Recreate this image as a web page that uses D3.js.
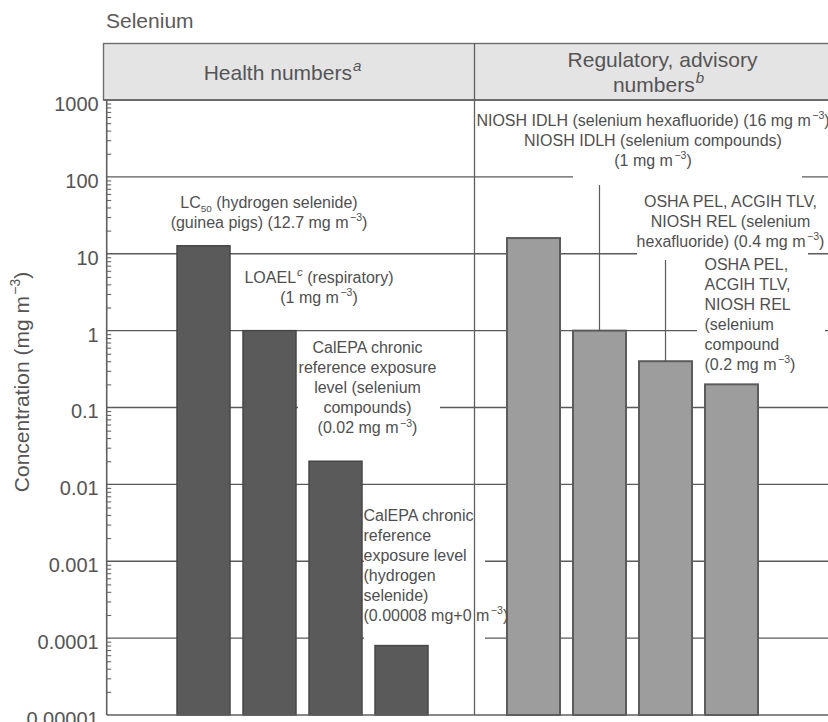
<!DOCTYPE html>
<html>
<head>
<meta charset="utf-8">
<script src="https://cdn.jsdelivr.net/npm/d3@7"></script>
<style>
  html, body { margin: 0; padding: 0; background: #fff; }
  svg { display: block; font-family: "Liberation Sans", Arial, Helvetica, sans-serif; }
</style>
</head>
<body>
<svg id="chart" width="828" height="722"></svg>
<script>
// Selenium: health-based numbers vs regulatory / advisory numbers (mg m-3), log scale

const healthCategories = [
  "LC50 hydrogen selenide (guinea pigs)",
  "LOAEL (respiratory)",
  "CalEPA chronic REL (selenium compounds)",
  "CalEPA chronic REL (hydrogen selenide)"
];
const healthValues = [12.7, 1, 0.02, 0.00008];

const regulatoryCategories = [
  "NIOSH IDLH (selenium hexafluoride)",
  "NIOSH IDLH (selenium compounds)",
  "OSHA PEL, ACGIH TLV, NIOSH REL (selenium hexafluoride)",
  "OSHA PEL, ACGIH TLV, NIOSH REL (selenium compound)"
];
const regulatoryValues = [16, 1, 0.4, 0.2];

const yTickValues = [1e-5, 1e-4, 1e-3, 1e-2, 1e-1, 1, 10, 100, 1000];
const yTickLabels = ["0.00001", "0.0001", "0.001", "0.01", "0.1", "1", "10", "100", "1000"];

const chartTitle = "Selenium";
const yAxisTitle = "Concentration (mg m^{−3})";
const healthHeader = ["Health numbers^*{a}"];
const regulatoryHeader = ["Regulatory, advisory", "numbers^*{b}"];

// Bar annotations (text lines; ^{} superscript, _{} subscript, ^*{} italic superscript)
const healthLabels = [
  ["LC_{50} (hydrogen selenide)", "(guinea pigs) (12.7 mg m^{−3})"],
  ["LOAEL^*{c} (respiratory)", "(1 mg m^{−3})"],
  ["CalEPA chronic", "reference exposure", "level (selenium", "compounds)", "(0.02 mg m^{−3})"],
  ["CalEPA chronic", "reference", "exposure level", "(hydrogen", "selenide)", "(0.00008 mg+0 m^{−3})"]
];
const regulatoryLabels = [
  ["NIOSH IDLH (selenium hexafluoride) (16 mg m^{−3})", "NIOSH IDLH (selenium compounds)", "(1 mg m^{−3})"],
  null,
  ["OSHA PEL, ACGIH TLV,", "NIOSH REL (selenium", "hexafluoride) (0.4 mg m^{−3})"],
  ["OSHA PEL,", "ACGIH TLV,", "NIOSH REL", "(selenium", "compound", "(0.2 mg m^{−3})"]
];

// ---- layout -------------------------------------------------------------
const frame = { left: 106.7, right: 860, top: 100, bottom: 715, headerTop: 43.5, headerLeft: 103.5 };
const divider = 474.5;
const ink = "#4f4f4f";
const gridColor = "#5a5a5a";

const svg = d3.select("#chart");

const y = d3.scaleLog().domain([1e-5, 1e3]).range([frame.bottom, frame.top]);
const xHealth = d3.scaleBand().domain(healthCategories)
  .range([170.5, 434.5]).paddingInner(13 / 66).paddingOuter(6.5 / 66);
const xReg = d3.scaleBand().domain(regulatoryCategories)
  .range([500.5, 764.5]).paddingInner(13 / 66).paddingOuter(6.5 / 66);

// rich text helper
function richText(textSel, str, fs) {
  const re = /\^\*\{([^}]*)\}|\^\{([^}]*)\}|_\{([^}]*)\}|([^^_]+)/g;
  let m, shift = 0;
  while ((m = re.exec(str)) !== null) {
    let t, size = fs, target = 0, italic = false, dx = 0;
    if (m[1] !== undefined) { t = m[1]; size = fs * 0.72; target = -fs * 0.42; italic = true; dx = 1; }
    else if (m[2] !== undefined) { t = m[2]; size = fs * 0.66; target = -fs * 0.42; dx = 1.5; }
    else if (m[3] !== undefined) { t = m[3]; size = fs * 0.62; target = fs * 0.25; }
    else { t = m[4]; }
    const ts = textSel.append("tspan").text(t).attr("font-size", size).attr("dy", target - shift);
    if (dx) ts.attr("dx", dx);
    if (italic) ts.attr("font-style", "italic");
    shift = target;
  }
}

// header band
svg.append("rect")
  .attr("x", frame.headerLeft).attr("y", frame.headerTop)
  .attr("width", frame.right - frame.headerLeft).attr("height", frame.top - frame.headerTop)
  .attr("fill", "#e4e4e4").attr("stroke", "#6e6e6e").attr("stroke-width", 1.4);

// gridlines at each decade
const gridValues = yTickValues.filter(v => v > 1e-5 && v < 1e3);
svg.append("g").selectAll("line").data(gridValues).join("line")
  .attr("x1", frame.left).attr("x2", frame.right)
  .attr("y1", d => y(d)).attr("y2", d => y(d))
  .attr("stroke", gridColor).attr("stroke-width", 1.3);

// bars
svg.append("g").selectAll("rect").data(healthValues).join("rect")
  .attr("x", (d, i) => xHealth(healthCategories[i]))
  .attr("width", xHealth.bandwidth())
  .attr("y", d => y(d))
  .attr("height", d => frame.bottom - y(d))
  .attr("fill", "#5a5a5a").attr("stroke", "#474747").attr("stroke-width", 1.5);

svg.append("g").selectAll("rect").data(regulatoryValues).join("rect")
  .attr("x", (d, i) => xReg(regulatoryCategories[i]))
  .attr("width", xReg.bandwidth())
  .attr("y", d => y(d))
  .attr("height", d => frame.bottom - y(d))
  .attr("fill", "#9d9d9d").attr("stroke", "#5c5c5c").attr("stroke-width", 2);

// annotation placement: white frame behind text, text anchor, first baseline
const labelLayout = {
  health: [
    { box: null, anchor: "middle", x: 269, y: 207.5 },
    { box: null, anchor: "middle", x: 319, y: 282.5 },
    { box: [298, 338, 142, 102], anchor: "middle", x: 367.5, y: 353.3 },
    { box: [364, 504, 121, 137], anchor: "start", x: 363.5, y: 520.5 }
  ],
  regulatory: [
    { box: [573, 108, 229, 77], anchor: "middle", x: 653, y: 126, leaderTop: 185 },
    null,
    { box: [637, 190, 171, 69], anchor: "middle", x: 730.5, y: 206.5, leaderTop: 260 },
    { box: [697, 256, 128, 120], anchor: "start", x: 704.5, y: 270 }
  ]
};
const lineStep = 20;
const labelSize = 16;

function drawLabels(labels, layout, xs, cats, values) {
  labels.forEach((lines, i) => {
    const L = layout[i];
    if (!lines || !L) return;
    if (L.box) {
      svg.append("rect").attr("x", L.box[0]).attr("y", L.box[1])
        .attr("width", L.box[2]).attr("height", L.box[3]).attr("fill", "#fff");
    }
    if (L.leaderTop !== undefined) {
      const cx = xs(cats[i]) + xs.bandwidth() / 2;
      svg.append("line").attr("x1", cx).attr("x2", cx)
        .attr("y1", L.leaderTop).attr("y2", y(values[i]))
        .attr("stroke", gridColor).attr("stroke-width", 1.2);
    }
    lines.forEach((ln, k) => {
      const t = svg.append("text")
        .attr("x", L.x).attr("y", L.y + k * lineStep)
        .attr("text-anchor", L.anchor)
        .attr("font-size", labelSize).attr("fill", ink);
      richText(t, ln, labelSize);
    });
  });
}
// leaders of the regulatory group attach to bars with the same index
drawLabels(healthLabels, labelLayout.health, xHealth, healthCategories, healthValues);
// leader for the first regulatory label points to the second bar (1 mg m-3)
function drawRegLabels() {
  regulatoryLabels.forEach((lines, i) => {
    const L = labelLayout.regulatory[i];
    if (!lines || !L) return;
    if (L.box) {
      svg.append("rect").attr("x", L.box[0]).attr("y", L.box[1])
        .attr("width", L.box[2]).attr("height", L.box[3]).attr("fill", "#fff");
    }
    lines.forEach((ln, k) => {
      const t = svg.append("text")
        .attr("x", L.x).attr("y", L.y + k * lineStep)
        .attr("text-anchor", L.anchor)
        .attr("font-size", labelSize).attr("fill", ink);
      richText(t, ln, labelSize);
    });
  });
  // leaders: IDLH compounds label -> 1 mg bar, 0.4 label -> 0.4 bar
  const leaders = [
    { idx: 1, top: labelLayout.regulatory[0].leaderTop },
    { idx: 2, top: labelLayout.regulatory[2].leaderTop }
  ];
  leaders.forEach(l => {
    const cx = xReg(regulatoryCategories[l.idx]) + xReg.bandwidth() / 2;
    svg.append("line").attr("x1", cx).attr("x2", cx)
      .attr("y1", l.top).attr("y2", y(regulatoryValues[l.idx]))
      .attr("stroke", gridColor).attr("stroke-width", 1.2);
  });
}
drawRegLabels();

// frame lines
svg.append("line").attr("x1", frame.left).attr("x2", frame.left)
  .attr("y1", frame.top).attr("y2", frame.bottom)
  .attr("stroke", "#5f5f5f").attr("stroke-width", 1.6);
svg.append("line").attr("x1", frame.left).attr("x2", frame.right)
  .attr("y1", frame.bottom).attr("y2", frame.bottom)
  .attr("stroke", "#5f5f5f").attr("stroke-width", 1.6);
svg.append("line").attr("x1", frame.headerLeft).attr("x2", frame.right)
  .attr("y1", frame.top).attr("y2", frame.top)
  .attr("stroke", "#5f5f5f").attr("stroke-width", 1.6);
svg.append("line").attr("x1", divider).attr("x2", divider)
  .attr("y1", frame.headerTop).attr("y2", frame.bottom)
  .attr("stroke", "#5f5f5f").attr("stroke-width", 1.3);

// minor ticks inside the y axis
const minorTicks = [];
for (let e = -5; e < 3; e++) for (let k = 2; k <= 9; k++) minorTicks.push(k * Math.pow(10, e));
const minorAxis = d3.axisRight(y).tickValues(minorTicks).tickSize(4.5).tickFormat("");
const gMinor = svg.append("g").attr("transform", `translate(${frame.left},0)`).call(minorAxis);
gMinor.select(".domain").remove();
gMinor.selectAll("line").attr("stroke", "#666").attr("stroke-width", 1.1);

// y tick labels
const labelAxis = d3.axisLeft(y).tickValues(yTickValues).tickSize(0).tickPadding(8)
  .tickFormat((d, i) => yTickLabels[i]);
const gLabels = svg.append("g").attr("transform", `translate(${frame.left},0)`).call(labelAxis);
gLabels.select(".domain").remove();
gLabels.selectAll("text")
  .attr("font-size", 20).attr("font-family", "Liberation Sans, Arial, sans-serif")
  .attr("fill", "#555").attr("dy", "0.52em");

// titles
svg.append("text").attr("x", 106).attr("y", 28).attr("font-size", 21)
  .attr("fill", "#5a5a5a").text(chartTitle);

const yt = svg.append("text")
  .attr("transform", "translate(29,382) rotate(-90)")
  .attr("text-anchor", "middle").attr("font-size", 21).attr("fill", "#555");
richText(yt, yAxisTitle, 21);

healthHeader.forEach((ln, k) => {
  const t = svg.append("text").attr("x", 282.5).attr("y", 80 + k * 25)
    .attr("text-anchor", "middle").attr("font-size", 21).attr("fill", "#555");
  richText(t, ln, 21);
});
regulatoryHeader.forEach((ln, k) => {
  const t = svg.append("text").attr("x", k === 0 ? 662.5 : 658.5).attr("y", 67 + k * 25)
    .attr("text-anchor", "middle").attr("font-size", 21).attr("fill", "#555");
  richText(t, ln, 21);
});
</script>
</body>
</html>
